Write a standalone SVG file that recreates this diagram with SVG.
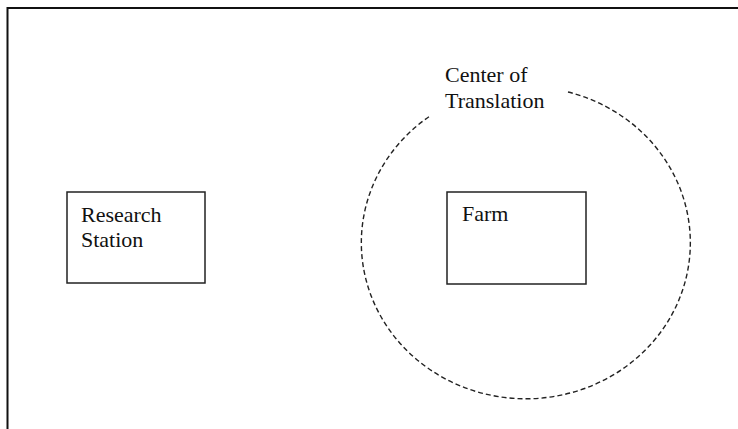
<svg xmlns="http://www.w3.org/2000/svg" width="738" height="429" viewBox="0 0 738 429">
<style>
.box{fill:#fff;stroke:#222;stroke-width:1.5}
.t{font-family:"Liberation Serif","Times New Roman",serif;font-size:22px;fill:#111}
.dash{fill:none;stroke:#222;stroke-width:1.4;stroke-dasharray:5 3}
</style>
<rect width="738" height="429" fill="#fff"/>
<g id="frame">
<path d="M7.5 429 V8 H738" fill="none" stroke="#111" stroke-width="2"/>
</g>
<g id="connectors">
<path class="dash" d="M568 92 A164.5 156 0 1 1 430 116"/>
</g>
<g id="research-station">
<rect class="box" x="67" y="192" width="138" height="91"/>
<text class="t" x="81" y="222">Research</text>
<text class="t" x="81" y="247">Station</text>
</g>
<g id="farm">
<rect class="box" x="447" y="192" width="139" height="92"/>
<text class="t" x="462" y="221">Farm</text>
</g>
<g id="center-of-translation">
<text class="t" x="445" y="82">Center of</text>
<text class="t" x="445" y="108">Translation</text>
</g>
</svg>
